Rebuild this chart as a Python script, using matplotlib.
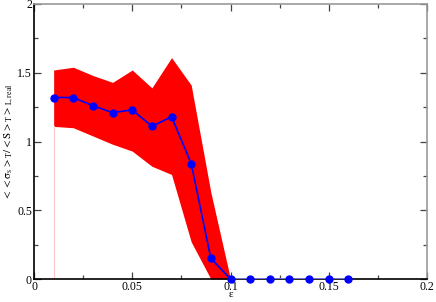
import numpy as np
import matplotlib
matplotlib.use('Agg')
import matplotlib.pyplot as plt
from matplotlib.ticker import MultipleLocator

plt.rcParams['font.family'] = ['Liberation Serif', 'DejaVu Serif']
plt.rcParams['mathtext.fontset'] = 'stix'

# data
eps = [0.01, 0.02, 0.03, 0.04, 0.05, 0.06, 0.07, 0.08, 0.09, 0.10,
       0.11, 0.12, 0.13, 0.14, 0.15, 0.16]
mean = [1.32, 1.32, 1.26, 1.21, 1.23, 1.11, 1.18, 0.84, 0.15, 0.0,
        0.0, 0.0, 0.0, 0.0, 0.0, 0.0]
band_eps = [0.01, 0.02, 0.03, 0.04, 0.05, 0.06, 0.07, 0.08, 0.09, 0.10]
upper = [1.52, 1.54, 1.48, 1.43, 1.52, 1.39, 1.61, 1.41, 0.63, 0.0]
lower = [1.11, 1.10, 1.04, 0.98, 0.93, 0.82, 0.76, 0.27, -0.33, 0.0]

fig = plt.figure(figsize=(4.36, 3.02), dpi=100)
ax = fig.add_axes([34 / 436, 1 - 279 / 302, 393 / 436, 275 / 302])

ax.fill_between(band_eps, np.clip(lower, 0, None), upper, color='red',
                linewidth=0, zorder=1)
ax.plot([band_eps[0], band_eps[0]], [0, lower[0]], color='#ffc8c8',
        linewidth=0.8, zorder=1)

# line colours: dark blue while nonzero, lighter along the axis
n = mean.index(0.0)
ax.plot(eps[:n + 1], mean[:n + 1], color='blue', linewidth=1.2, zorder=3)
ax.plot(eps[n:], mean[n:], color='#8080ff', linewidth=1.2, zorder=3)
ax.plot(eps, mean, 'o', color='blue', markersize=5, linestyle='none',
        zorder=4, clip_on=False)

ax.set_xlim(0, 0.2)
ax.set_ylim(0, 2)
ax.xaxis.set_minor_locator(MultipleLocator(0.025))
ax.yaxis.set_minor_locator(MultipleLocator(0.25))
ax.set_xticks([0, 0.05, 0.1, 0.15, 0.2])
ax.set_xticklabels(['0', '0.05', '0.1', '0.15', '0.2'])
ax.set_yticks([0, 0.5, 1, 1.5, 2])
ax.set_yticklabels(['0', '0.5', '1', '1.5', '2'])

ax.tick_params(which='both', direction='in', top=True, right=True,
               labelsize=8.5, pad=1.5, color='#444444')
ax.tick_params(which='major', length=5, width=0.9)
ax.tick_params(which='minor', length=3, width=0.9)

for s in ['top', 'right']:
    ax.spines[s].set_color('#999999')
for s in ['bottom', 'left']:
    ax.spines[s].set_color('black')
for s in ax.spines.values():
    s.set_linewidth(1.2)

ax.set_xlabel('ε', fontsize=8)
ax.xaxis.set_label_coords(0.5, -0.04)
ax.set_ylabel(r'$\mathrm{<<\sigma_s>_T/<S>_T>_{L,real}}$', fontsize=8)
ax.yaxis.set_label_coords(-0.045, 0.5)

fig.savefig('out.png', dpi=100)
